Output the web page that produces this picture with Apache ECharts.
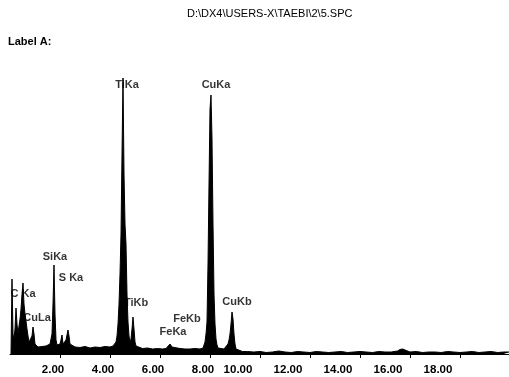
<!DOCTYPE html>
<html>
<head>
<meta charset="utf-8">
<script src="https://cdn.jsdelivr.net/npm/echarts@6/dist/echarts.min.js"></script>
<style>
    html, body { margin: 0; padding: 0; background: #fff; }
    #chart { width: 509px; height: 377px; }
</style>
</head>
<body>
<div id="chart"></div>
<script>
// EDS spectrum, energy in keV / counts
var energy = [
    0.04, 0.08, 0.12, 0.16, 0.20, 0.24, 0.28, 0.32, 0.36, 0.40,
    0.44, 0.48, 0.52, 0.56, 0.60, 0.64, 0.68, 0.72, 0.76, 0.80,
    0.84, 0.88, 0.92, 0.96, 1.00, 1.04, 1.12, 1.20, 1.28, 1.36,
    1.44, 1.52, 1.60, 1.64, 1.68, 1.72, 1.76, 1.80, 1.84, 1.88,
    1.92, 1.96, 2.00, 2.04, 2.08, 2.12, 2.16, 2.20, 2.24, 2.28,
    2.32, 2.36, 2.40, 2.48, 2.60, 2.80, 3.00, 3.20, 3.40, 3.60,
    3.80, 4.00, 4.12, 4.20, 4.24, 4.28, 4.32, 4.36, 4.40, 4.44,
    4.48, 4.52, 4.56, 4.60, 4.64, 4.68, 4.72, 4.76, 4.80, 4.84,
    4.88, 4.92, 4.96, 5.00, 5.04, 5.12, 5.30, 5.50, 5.70, 5.90,
    6.10, 6.24, 6.32, 6.40, 6.48, 6.56, 6.80, 7.00, 7.08, 7.20,
    7.40, 7.60, 7.72, 7.76, 7.80, 7.84, 7.88, 7.92, 7.96, 8.00,
    8.04, 8.08, 8.12, 8.16, 8.20, 8.24, 8.28, 8.32, 8.40, 8.56,
    8.64, 8.72, 8.76, 8.80, 8.84, 8.88, 8.92, 8.96, 9.00, 9.04,
    9.12, 9.30, 9.50, 9.75, 10.00, 10.25, 10.50, 10.75, 11.00, 11.25,
    11.50, 11.75, 12.00, 12.25, 12.50, 12.75, 13.00, 13.25, 13.50, 13.75,
    14.00, 14.25, 14.50, 14.75, 15.00, 15.25, 15.50, 15.60, 15.70, 15.80,
    16.00, 16.25, 16.50, 16.75, 17.00, 17.25, 17.50, 17.75, 18.00, 18.25,
    18.50, 18.75, 19.00, 19.25, 19.50, 19.75, 20.00
];
var counts = [
    0, 750, 200, 150, 250, 460, 300, 200, 280, 350,
    450, 600, 710, 500, 400, 330, 250, 180, 120, 100,
    120, 180, 270, 200, 100, 80, 70, 90, 75, 65,
    80, 85, 100, 120, 200, 500, 890, 400, 140, 90,
    80, 85, 100, 140, 190, 100, 90, 100, 140, 190,
    240, 180, 100, 80, 70, 65, 75, 60, 70, 65,
    75, 70, 80, 100, 120, 180, 300, 500, 800, 1200,
    2000, 2760, 1800, 1300, 1100, 600, 320, 180, 120, 150,
    250, 370, 250, 120, 80, 60, 55, 60, 50, 55,
    50, 55, 70, 100, 70, 50, 55, 50, 60, 50,
    55, 50, 60, 80, 120, 200, 320, 900, 1700, 2450,
    2590, 2150, 1300, 600, 300, 150, 90, 60, 50, 50,
    70, 100, 140, 200, 300, 420, 350, 200, 100, 50,
    30, 25, 25, 20, 25, 15, 20, 30, 20, 15,
    25, 20, 15, 25, 20, 15, 20, 25, 15, 20,
    25, 20, 15, 25, 20, 20, 30, 45, 50, 40,
    20, 25, 15, 20, 20, 15, 25, 20, 15, 20,
    25, 15, 20, 25, 15, 20, 20
];
var tickValues = [2, 4, 6, 8, 10, 12, 14, 16, 18];
// peak name, label anchor energy, label anchor counts
var peakNames = ['TiKa', 'CuKa', 'SiKa', 'S Ka', 'C Ka', 'CuLa', 'TiKb', 'FeKb', 'FeKa', 'CuKb'];
var peakKeV = [4.68, 8.24, 1.80, 2.44, 0.52, 1.08, 5.04, 7.08, 6.52, 9.08];
var peakCounts = [2690, 2690, 970, 760, 600, 360, 510, 350, 220, 520];
var fileName = 'D:\\DX4\\USERS-X\\TAEBI\\2\\5.SPC';
var labelName = 'Label A:';

function edsSpectrum(divId) {
    var dom = document.getElementById(divId);
    var chart = echarts.init(dom);
    var font = 'Liberation Sans, Arial, sans-serif';

    var line = [];
    for (var i = 0; i < energy.length; i++) {
        line.push([energy[i], counts[i]]);
    }
    var peaks = [];
    for (var j = 0; j < peakNames.length; j++) {
        peaks.push([peakKeV[j], peakCounts[j], peakNames[j]]);
    }

    var option = {
        backgroundColor: '#fff',
        animation: false,
        title: [{
            text: fileName,
            left: 187,
            top: 8,
            padding: 0,
            textStyle: { fontFamily: font, fontSize: 11, fontWeight: 'normal', color: '#000' }
        }, {
            text: labelName,
            left: 8,
            top: 36,
            padding: 0,
            textStyle: { fontFamily: font, fontSize: 11, fontWeight: 'bold', color: '#000' }
        }],
        grid: {
            left: 10,
            top: 54,
            width: 500,
            bottom: 23,
            containLabel: false,
            outerBoundsMode: 'none'
        },
        xAxis: {
            type: 'value',
            min: 0,
            max: 20,
            offset: 4,
            splitLine: { show: false },
            axisLine: { show: true, lineStyle: { color: '#000', width: 1 } },
            axisTick: {
                show: true,
                inside: false,
                length: 4,
                customValues: tickValues,
                lineStyle: { color: '#000' }
            },
            axisLabel: {
                show: true,
                margin: 6,
                customValues: tickValues,
                formatter: function (v) {
                    var s = v.toFixed(2);
                    return v < 10 ? '{a|' + s + '}' : '{b|' + s + '}';
                },
                rich: {
                    a: { padding: [0, 14, 0, 0], fontFamily: font, fontSize: 11.5, fontWeight: 'bold', color: '#000' },
                    b: { padding: [0, 44, 0, 0], fontFamily: font, fontSize: 11.5, fontWeight: 'bold', color: '#000' }
                }
            }
        },
        yAxis: {
            type: 'value',
            min: 0,
            max: 3000,
            show: false
        },
        series: [{
            type: 'line',
            data: line,
            showSymbol: false,
            silent: true,
            lineStyle: { color: '#000', width: 1 },
            areaStyle: { color: '#000', opacity: 1 }
        }, {
            type: 'scatter',
            data: peaks,
            symbolSize: 1,
            silent: true,
            itemStyle: { color: 'rgba(0,0,0,0)' },
            label: {
                show: true,
                position: 'inside',
                formatter: function (p) { return p.data[2]; },
                fontFamily: font,
                fontSize: 11,
                fontWeight: 'bold',
                color: '#000'
            },
            z: 5
        }]
    };
    chart.setOption(option);
    window.addEventListener('resize', function () {
        chart.resize();
    });
}

edsSpectrum('chart');
</script>
</body>
</html>
